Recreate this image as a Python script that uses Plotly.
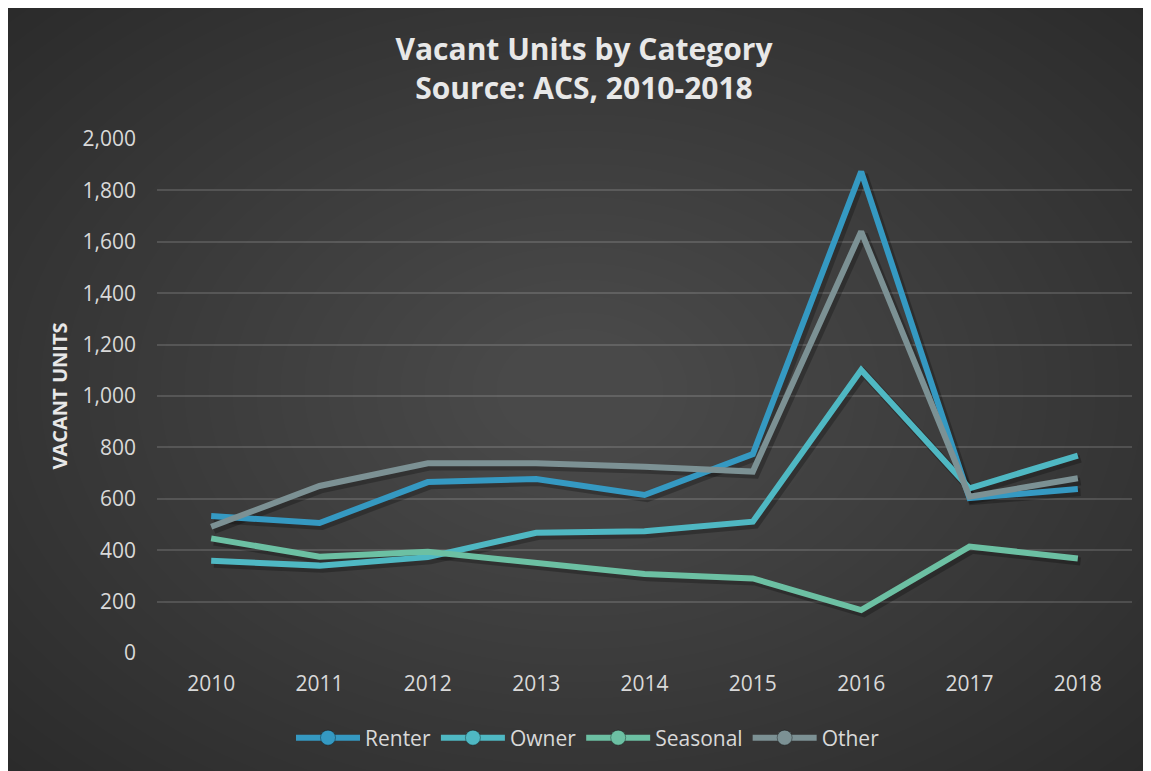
import plotly.graph_objects as go

years = [2010, 2011, 2012, 2013, 2014, 2015, 2016, 2017, 2018]
renter = [533, 506, 665, 677, 615, 774, 1873, 603, 638]
owner = [359, 340, 373, 468, 474, 511, 1101, 641, 768]
seasonal = [446, 375, 394, 351, 307, 290, 167, 414, 368]
other = [491, 650, 738, 738, 725, 706, 1640, 608, 680]

series_names = ["Renter", "Owner", "Seasonal", "Other"]
series_values = [renter, owner, seasonal, other]
colors = ["#3599c2", "#4fb8c3", "#6cc0a3", "#7c9194"]

y_ticks = [0, 200, 400, 600, 800, 1000, 1200, 1400, 1600, 1800, 2000]

# page is offset by the 8px body margin
OFF = 8
W, H = 1151 - OFF, 771 - OFF
L, R, T, B = 157 - OFF, 19, 139 - OFF, 118
PW, PH = W - L - R, H - T - B

def px_to_paper_x(px):
    return (px - OFF - L) / PW

def px_to_paper_y(py):
    return (H - B - (py - OFF)) / PH

FONT = "Open Sans"
fig = go.Figure()

# shadows
for vals in series_values:
    fig.add_trace(go.Scatter(
        x=[y + 0.025 for y in years], y=[v - 12 for v in vals], mode="lines",
        line=dict(color="rgba(0,0,0,0.25)", width=8), hoverinfo="skip", showlegend=False))

for name, vals, c in zip(series_names, series_values, colors):
    fig.add_trace(go.Scatter(x=years, y=vals, mode="lines", name=name,
                             line=dict(color=c, width=6), showlegend=False))
    fig.add_trace(go.Scatter(x=[None], y=[None], mode="lines+markers", name=name,
                             line=dict(color=c, width=6),
                             marker=dict(color=c, size=15, line=dict(color="rgba(0,0,0,0.35)", width=1))))

shapes = []
cx, cy = 580, 390
n = 30
for i in range(n):
    rx = 780 - i * 24
    ry = 540 - i * 16.5
    shapes.append(dict(type="circle", xref="paper", yref="paper", layer="below",
                       x0=px_to_paper_x(cx - rx), x1=px_to_paper_x(cx + rx),
                       y0=px_to_paper_y(cy + ry), y1=px_to_paper_y(cy - ry),
                       fillcolor="rgba(255,255,255,0.0095)", line=dict(width=0)))

fig.update_layout(
    width=W, height=H,
    margin=dict(l=L, r=R, t=T, b=B, autoexpand=False),
    paper_bgcolor="#2b2b2b", plot_bgcolor="rgba(0,0,0,0)",
    shapes=shapes,
    title=dict(text="Vacant Units by Category<br>Source: ACS, 2010-2018",
               x=(584 - OFF) / W, xanchor="center", y=1 - (60 - OFF) / H, yanchor="middle",
               font=dict(family=FONT, size=30, color="#e8e8e8", weight="bold")),
    xaxis=dict(range=[2009.5, 2018.5], tickvals=years, ticktext=[str(y) for y in years],
               showgrid=False, zeroline=False, showline=False, ticks="",
               tickfont=dict(family=FONT, size=21, color="#d9d9d9"), ticklabelstandoff=16),
    yaxis=dict(range=[0, 2000], tickvals=y_ticks, tickformat=",d",
               showgrid=True, gridcolor="rgba(255,255,255,0.14)", gridwidth=1.5,
               zeroline=False, showline=False, ticks="",
               tickfont=dict(family=FONT, size=21, color="#d9d9d9"), ticklabelstandoff=20,
               title=dict(text="VACANT UNITS", standoff=9,
                          font=dict(family=FONT, size=20, color="#e8e8e8", weight="bold"))),
    legend=dict(orientation="h", x=(588 - OFF) / W, xanchor="center", xref="container",
                y=1 - (738 - OFF) / H, yref="container", yanchor="middle",
                font=dict(family=FONT, size=21, color="#d9d9d9"),
                bgcolor="rgba(0,0,0,0)", itemwidth=64, tracegroupgap=0),
)
fig.write_html("out.html", config={"displayModeBar": False})
